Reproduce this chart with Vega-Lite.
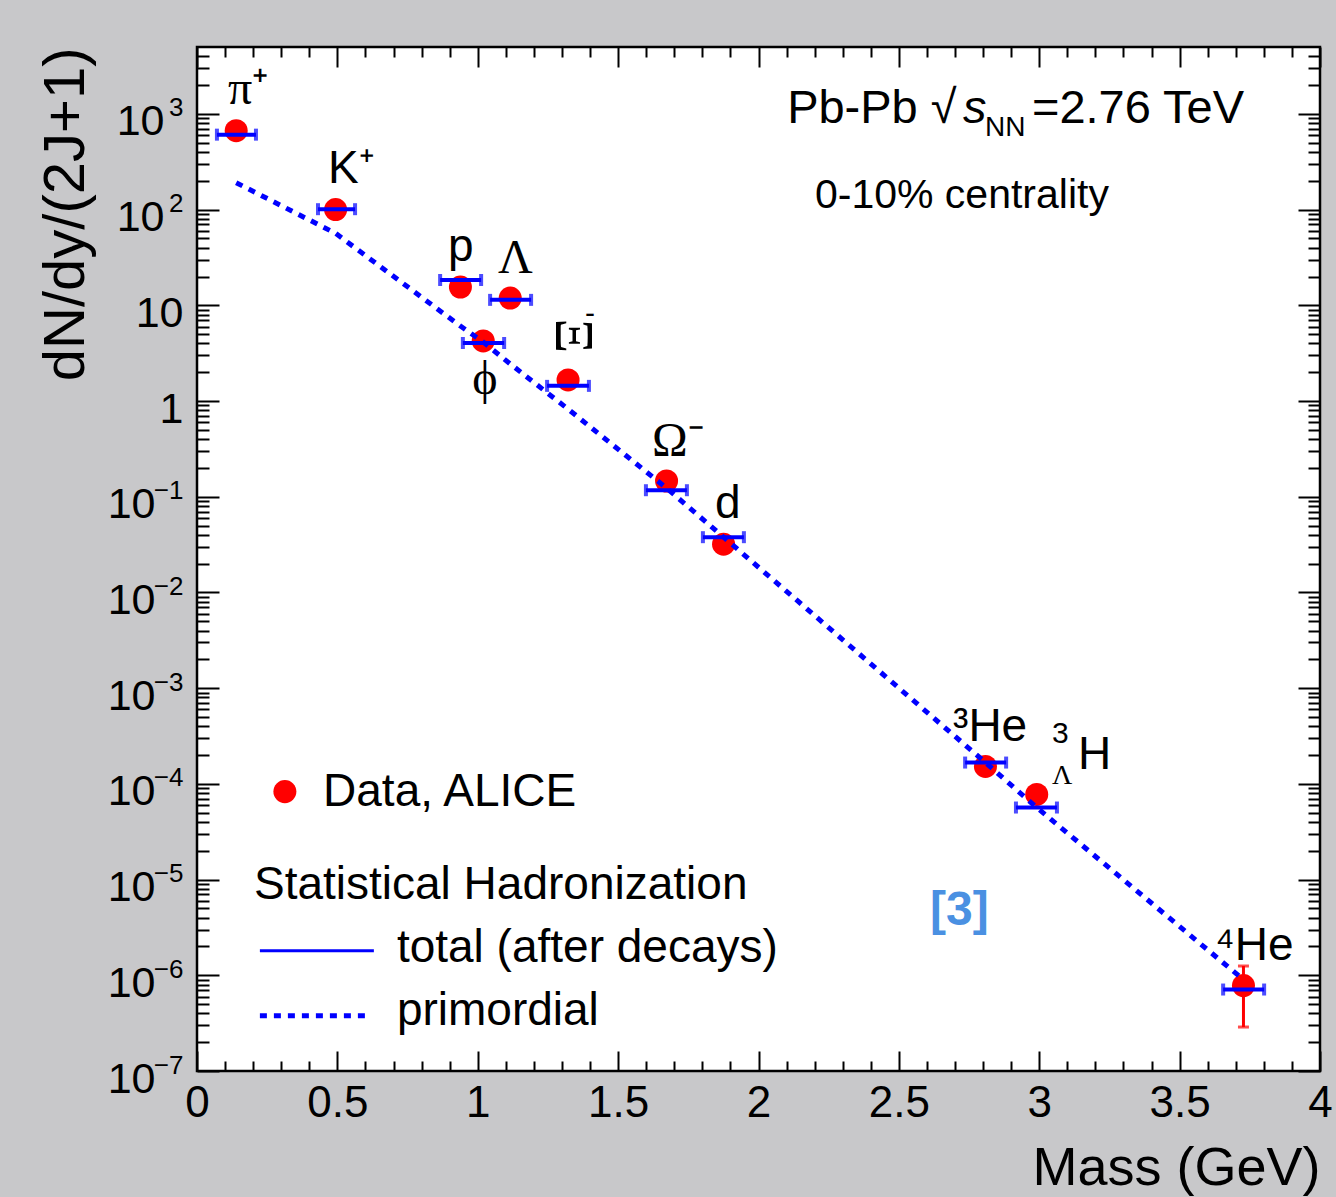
{
  "$schema": "https://vega.github.io/schema/vega-lite/v6.json",
  "width": 1123,
  "height": 1024,
  "autosize": "none",
  "padding": {"left": 197, "top": 47, "right": 16, "bottom": 126},
  "background": "#c8c8ca",
  "config": {
    "view": {"stroke": "black", "strokeWidth": 2.5, "fill": "white"},
    "axis": {"domain": false, "grid": false, "tickColor": "black", "tickWidth": 2, "labelColor": "black", "labelFont": "Liberation Sans", "titleFont": "Liberation Sans", "titleColor": "black", "titleFontWeight": "normal", "labelFlush": false, "labelOverlap": false}
  },
  "resolve": {"axis": {"x": "independent", "y": "independent"}},
  "datasets": {
    "particles": [
      {"particle": "π+", "mass": 0.1396, "yield": 668, "model": 607, "model_lo": 0.071, "model_hi": 0.210, "primordial": 191},
      {"particle": "K+", "mass": 0.4937, "yield": 100, "model": 101, "model_lo": 0.431, "model_hi": 0.563, "primordial": 56.5},
      {"particle": "p", "mass": 0.9383, "yield": 15.5, "model": 18.4, "model_lo": 0.866, "model_hi": 1.012, "primordial": 6.07},
      {"particle": "φ", "mass": 1.0195, "yield": 4.24, "model": 4.04, "model_lo": 0.947, "model_hi": 1.094, "primordial": 4.13},
      {"particle": "Λ", "mass": 1.1157, "yield": 11.9, "model": 11.4, "model_lo": 1.044, "model_hi": 1.190, "primordial": 2.44},
      {"particle": "Ξ-", "mass": 1.3217, "yield": 1.66, "model": 1.44, "model_lo": 1.247, "model_hi": 1.396, "primordial": 0.824},
      {"particle": "Ω-", "mass": 1.6725, "yield": 0.146, "model": 0.117, "model_lo": 1.599, "model_hi": 1.745, "primordial": 0.123},
      {"particle": "d", "mass": 1.8756, "yield": 0.0319, "model": 0.0378, "model_lo": 1.802, "model_hi": 1.948, "primordial": 0.0378},
      {"particle": "3He", "mass": 2.8084, "yield": 0.000152, "model": 0.000167, "model_lo": 2.736, "model_hi": 2.882, "primordial": 0.000167},
      {"particle": "3LH", "mass": 2.991, "yield": 0.0000775, "model": 0.0000566, "model_lo": 2.917, "model_hi": 3.063, "primordial": 0.0000566},
      {"particle": "4He", "mass": 3.7274, "yield": 7.8e-7, "model": 7.1e-7, "model_lo": 3.655, "model_hi": 3.801, "primordial": 9e-7}
    ],
    "he4": [{"mass": 3.7274, "lo": 2.88e-7, "hi": 1.25e-6}],
    "labels_sans": [
      {"t": "K⁺", "x": 0.467, "y": 188},
      {"t": "p", "x": 0.894, "y": 29},
      {"t": "d", "x": 1.845, "y": 0.0597},
      {"t": "³He", "x": 2.693, "y": 0.000278},
      {"t": "H", "x": 3.138, "y": 0.000142},
      {"t": "⁴He", "x": 3.626, "y": 1.46e-6}
    ],
    "labels_serif": [
      {"t": "π⁺", "x": 0.110, "y": 1283},
      {"t": "Λ", "x": 1.072, "y": 21.8},
      {"t": "ϕ", "x": 0.980, "y": 1.18},
      {"t": "Ω⁻", "x": 1.621, "y": 0.266}
    ],
    "xi_rot": [{"t": "Ξ", "x": 1.336, "y": 4.79}],
    "small_sans": [
      {"t": "3", "x": 3.045, "y": 0.000265},
      {"t": "-", "x": 1.382, "y": 6.55}
    ],
    "small_serif": [{"t": "Λ", "x": 3.045, "y": 0.0001}],
    "annot_main": [
      {"t": "Pb-Pb √", "x": 2.102, "y": 811},
      {"t": "=2.76 TeV", "x": 2.974, "y": 811}
    ],
    "annot_s": [{"t": "s", "x": 2.728, "y": 811}],
    "annot_nn": [{"t": "NN", "x": 2.807, "y": 593}],
    "annot_cent": [{"t": "0-10% centrality", "x": 2.201, "y": 104.7}],
    "legend_text": [
      {"t": "Data, ALICE", "x": 0.449, "y": 0.0000594},
      {"t": "Statistical Hadronization", "x": 0.203, "y": 0.00000633},
      {"t": "total (after decays)", "x": 0.712, "y": 0.00000139},
      {"t": "primordial", "x": 0.712, "y": 3.04e-7}
    ],
    "legend_dot": [{"x": 0.313, "y": 0.000083}],
    "legend_solid": [{"x": 0.224, "x2": 0.630, "y": 0.00000181}],
    "legend_dotted": [{"x": 0.224, "x2": 0.609, "y": 3.78e-7}],
    "ref": [{"t": "[3]", "x": 2.611, "y": 0.00000339}]
  },
  "layer": [
    {
      "data": {"name": "particles"},
      "mark": {"type": "circle", "size": 530, "color": "#ff0000", "opacity": 1},
      "encoding": {
        "x": {"field": "mass", "type": "quantitative", "scale": {"domain": [0, 4], "nice": false, "zero": false},
              "axis": {"orient": "top", "values": [0, 0.5, 1, 1.5, 2, 2.5, 3, 3.5, 4], "tickSize": -20, "labels": false, "title": null}},
        "y": {"field": "yield", "type": "quantitative", "scale": {"type": "log", "domain": [1e-7, 5000], "nice": false},
              "axis": {"orient": "right", "values": [1e-7, 1e-6, 1e-5, 1e-4, 1e-3, 1e-2, 1e-1, 1, 10, 100, 1000], "tickSize": -22, "labels": false, "title": null}}
      }
    },
    {
      "data": {"name": "he4"},
      "mark": {"type": "errorbar", "color": "#ff0000", "thickness": 3, "ticks": {"size": 11}},
      "encoding": {
        "x": {"field": "mass", "type": "quantitative", "scale": {"domain": [0, 4], "nice": false, "zero": false}, "axis": null},
        "y": {"field": "lo", "type": "quantitative", "scale": {"type": "log", "domain": [1e-7, 5000], "nice": false}, "axis": null},
        "y2": {"field": "hi"}
      }
    },
    {
      "data": {"name": "particles"},
      "mark": {"type": "line", "color": "#0000ff", "strokeWidth": 5, "strokeDash": [7, 7]},
      "encoding": {
        "x": {"field": "mass", "type": "quantitative", "scale": {"domain": [0, 4], "nice": false, "zero": false},
              "axis": {"orient": "bottom", "values": [0, 0.5, 1, 1.5, 2, 2.5, 3, 3.5, 4], "tickSize": -20, "labelFontSize": 44, "labelPadding": 30, "labelBaseline": "top", "labelExpr": "'' + datum.value",
                       "title": "Mass (GeV)", "titleFontSize": 54, "titleX": 1123, "titleY": 113, "titleAlign": "right", "titleBaseline": "alphabetic", "titleAngle": 0}},
        "y": {"field": "primordial", "type": "quantitative", "scale": {"type": "log", "domain": [1e-7, 5000], "nice": false},
              "axis": {"orient": "left", "values": [1e-7, 1e-6, 1e-5, 1e-4, 1e-3, 1e-2, 1e-1, 1, 10, 100, 1000], "tickSize": -22, "labelFontSize": 43, "labelBaseline": "alphabetic", "labelAlign": "right", "labelOffset": 21,
                       "labelPadding": {"condition": [{"test": "datum.value > 50", "value": 55}, {"test": "datum.value < 0.5", "value": 64}], "value": 36},
                       "labelExpr": "datum.value == 1 ? '1' : '10'",
                       "title": "dN/dy/(2J+1)", "titleFontSize": 58, "titleX": -114, "titleY": 0, "titleAlign": "right", "titleAngle": 270, "titleBaseline": "alphabetic"}}
      }
    },
    {
      "data": {"name": "particles"},
      "mark": {"type": "errorbar", "color": "#0000ff", "thickness": 4, "ticks": {"size": 12}},
      "encoding": {
        "x": {"field": "model_lo", "type": "quantitative", "scale": {"domain": [0, 4], "nice": false, "zero": false}, "axis": null},
        "x2": {"field": "model_hi"},
        "y": {"field": "model", "type": "quantitative", "scale": {"type": "log", "domain": [1e-7, 5000], "nice": false}, "axis": null}
      }
    },
    {
      "data": {"name": "labels_sans"},
      "mark": {"type": "text", "font": "Liberation Sans", "fontSize": 46, "align": "left", "baseline": "alphabetic", "color": "black"},
      "encoding": {
        "x": {"field": "x", "type": "quantitative", "scale": {"domain": [0, 4], "nice": false, "zero": false},
              "axis": {"orient": "bottom", "values": [0.1, 0.2, 0.3, 0.4, 0.6, 0.7, 0.8, 0.9, 1.1, 1.2, 1.3, 1.4, 1.6, 1.7, 1.8, 1.9, 2.1, 2.2, 2.3, 2.4, 2.6, 2.7, 2.8, 2.9, 3.1, 3.2, 3.3, 3.4, 3.6, 3.7, 3.8, 3.9], "tickSize": -10, "labels": false, "title": null}},
        "y": {"field": "y", "type": "quantitative", "scale": {"type": "log", "domain": [1e-7, 5000], "nice": false},
              "axis": {"orient": "left", "values": [2e-7, 3e-7, 4e-7, 5e-7, 6e-7, 7e-7, 8e-7, 9e-7, 2e-6, 3e-6, 4e-6, 5e-6, 6e-6, 7e-6, 8e-6, 9e-6, 2e-5, 3e-5, 4e-5, 5e-5, 6e-5, 7e-5, 8e-5, 9e-5, 2e-4, 3e-4, 4e-4, 5e-4, 6e-4, 7e-4, 8e-4, 9e-4, 0.002, 0.003, 0.004, 0.005, 0.006, 0.007, 0.008, 0.009, 0.02, 0.03, 0.04, 0.05, 0.06, 0.07, 0.08, 0.09, 0.2, 0.3, 0.4, 0.5, 0.6, 0.7, 0.8, 0.9, 2, 3, 4, 5, 6, 7, 8, 9, 20, 30, 40, 50, 60, 70, 80, 90, 200, 300, 400, 500, 600, 700, 800, 900, 2000, 3000, 4000], "tickSize": -12, "labels": false, "title": null}},
        "text": {"field": "t"}
      }
    },
    {
      "data": {"name": "labels_serif"},
      "mark": {"type": "text", "font": "Liberation Serif", "fontSize": 48, "align": "left", "baseline": "alphabetic", "color": "black"},
      "encoding": {
        "x": {"field": "x", "type": "quantitative", "scale": {"domain": [0, 4], "nice": false, "zero": false}, "axis": null},
        "y": {"field": "y", "type": "quantitative", "scale": {"type": "log", "domain": [1e-7, 5000], "nice": false},
              "axis": {"orient": "left", "values": [1e-7, 1e-6, 1e-5, 1e-4, 1e-3, 1e-2, 1e-1, 100, 1000], "tickSize": -22, "tickOpacity": 0, "labelFontSize": 26, "labelBaseline": "alphabetic", "labelAlign": "right", "labelOffset": 2, "labelPadding": 36,
                       "labelExpr": "round(log(datum.value)/LN10) > 0 ? '' + round(log(datum.value)/LN10) : '−' + (-round(log(datum.value)/LN10))",
                       "title": null}},
        "text": {"field": "t"}
      }
    },
    {
      "data": {"name": "xi_rot"},
      "mark": {"type": "text", "font": "Liberation Serif", "fontSize": 54, "align": "center", "baseline": "middle", "angle": 90, "color": "black"},
      "encoding": {
        "x": {"field": "x", "type": "quantitative", "scale": {"domain": [0, 4], "nice": false, "zero": false}, "axis": null},
        "y": {"field": "y", "type": "quantitative", "scale": {"type": "log", "domain": [1e-7, 5000], "nice": false}, "axis": null},
        "text": {"field": "t"}
      }
    },
    {
      "data": {"name": "small_sans"},
      "mark": {"type": "text", "font": "Liberation Sans", "fontSize": 30, "align": "left", "baseline": "alphabetic", "color": "black"},
      "encoding": {
        "x": {"field": "x", "type": "quantitative", "scale": {"domain": [0, 4], "nice": false, "zero": false}, "axis": null},
        "y": {"field": "y", "type": "quantitative", "scale": {"type": "log", "domain": [1e-7, 5000], "nice": false}, "axis": null},
        "text": {"field": "t"}
      }
    },
    {
      "data": {"name": "small_serif"},
      "mark": {"type": "text", "font": "Liberation Serif", "fontSize": 28, "align": "left", "baseline": "alphabetic", "color": "black"},
      "encoding": {
        "x": {"field": "x", "type": "quantitative", "scale": {"domain": [0, 4], "nice": false, "zero": false}, "axis": null},
        "y": {"field": "y", "type": "quantitative", "scale": {"type": "log", "domain": [1e-7, 5000], "nice": false}, "axis": null},
        "text": {"field": "t"}
      }
    },
    {
      "data": {"name": "annot_main"},
      "mark": {"type": "text", "font": "Liberation Sans", "fontSize": 47, "align": "left", "baseline": "alphabetic", "color": "black"},
      "encoding": {
        "x": {"field": "x", "type": "quantitative", "scale": {"domain": [0, 4], "nice": false, "zero": false},
              "axis": {"orient": "top", "values": [0.1, 0.2, 0.3, 0.4, 0.6, 0.7, 0.8, 0.9, 1.1, 1.2, 1.3, 1.4, 1.6, 1.7, 1.8, 1.9, 2.1, 2.2, 2.3, 2.4, 2.6, 2.7, 2.8, 2.9, 3.1, 3.2, 3.3, 3.4, 3.6, 3.7, 3.8, 3.9], "tickSize": -10, "labels": false, "title": null}},
        "y": {"field": "y", "type": "quantitative", "scale": {"type": "log", "domain": [1e-7, 5000], "nice": false},
              "axis": {"orient": "right", "values": [2e-7, 3e-7, 4e-7, 5e-7, 6e-7, 7e-7, 8e-7, 9e-7, 2e-6, 3e-6, 4e-6, 5e-6, 6e-6, 7e-6, 8e-6, 9e-6, 2e-5, 3e-5, 4e-5, 5e-5, 6e-5, 7e-5, 8e-5, 9e-5, 2e-4, 3e-4, 4e-4, 5e-4, 6e-4, 7e-4, 8e-4, 9e-4, 0.002, 0.003, 0.004, 0.005, 0.006, 0.007, 0.008, 0.009, 0.02, 0.03, 0.04, 0.05, 0.06, 0.07, 0.08, 0.09, 0.2, 0.3, 0.4, 0.5, 0.6, 0.7, 0.8, 0.9, 2, 3, 4, 5, 6, 7, 8, 9, 20, 30, 40, 50, 60, 70, 80, 90, 200, 300, 400, 500, 600, 700, 800, 900, 2000, 3000, 4000], "tickSize": -12, "labels": false, "title": null}},
        "text": {"field": "t"}
      }
    },
    {
      "data": {"name": "annot_s"},
      "mark": {"type": "text", "font": "Liberation Sans", "fontSize": 47, "fontStyle": "italic", "align": "left", "baseline": "alphabetic", "color": "black"},
      "encoding": {
        "x": {"field": "x", "type": "quantitative", "scale": {"domain": [0, 4], "nice": false, "zero": false}, "axis": null},
        "y": {"field": "y", "type": "quantitative", "scale": {"type": "log", "domain": [1e-7, 5000], "nice": false}, "axis": null},
        "text": {"field": "t"}
      }
    },
    {
      "data": {"name": "annot_nn"},
      "mark": {"type": "text", "font": "Liberation Sans", "fontSize": 28, "align": "left", "baseline": "alphabetic", "color": "black"},
      "encoding": {
        "x": {"field": "x", "type": "quantitative", "scale": {"domain": [0, 4], "nice": false, "zero": false}, "axis": null},
        "y": {"field": "y", "type": "quantitative", "scale": {"type": "log", "domain": [1e-7, 5000], "nice": false}, "axis": null},
        "text": {"field": "t"}
      }
    },
    {
      "data": {"name": "annot_cent"},
      "mark": {"type": "text", "font": "Liberation Sans", "fontSize": 41, "align": "left", "baseline": "alphabetic", "color": "black"},
      "encoding": {
        "x": {"field": "x", "type": "quantitative", "scale": {"domain": [0, 4], "nice": false, "zero": false}, "axis": null},
        "y": {"field": "y", "type": "quantitative", "scale": {"type": "log", "domain": [1e-7, 5000], "nice": false}, "axis": null},
        "text": {"field": "t"}
      }
    },
    {
      "data": {"name": "legend_text"},
      "mark": {"type": "text", "font": "Liberation Sans", "fontSize": 46, "align": "left", "baseline": "alphabetic", "color": "black"},
      "encoding": {
        "x": {"field": "x", "type": "quantitative", "scale": {"domain": [0, 4], "nice": false, "zero": false}, "axis": null},
        "y": {"field": "y", "type": "quantitative", "scale": {"type": "log", "domain": [1e-7, 5000], "nice": false}, "axis": null},
        "text": {"field": "t"}
      }
    },
    {
      "data": {"name": "legend_dot"},
      "mark": {"type": "circle", "size": 530, "color": "#ff0000", "opacity": 1},
      "encoding": {
        "x": {"field": "x", "type": "quantitative", "scale": {"domain": [0, 4], "nice": false, "zero": false}, "axis": null},
        "y": {"field": "y", "type": "quantitative", "scale": {"type": "log", "domain": [1e-7, 5000], "nice": false}, "axis": null}
      }
    },
    {
      "data": {"name": "legend_solid"},
      "mark": {"type": "rule", "color": "#0000ff", "strokeWidth": 3},
      "encoding": {
        "x": {"field": "x", "type": "quantitative", "scale": {"domain": [0, 4], "nice": false, "zero": false}, "axis": null},
        "x2": {"field": "x2"},
        "y": {"field": "y", "type": "quantitative", "scale": {"type": "log", "domain": [1e-7, 5000], "nice": false}, "axis": null}
      }
    },
    {
      "data": {"name": "legend_dotted"},
      "mark": {"type": "rule", "color": "#0000ff", "strokeWidth": 5, "strokeDash": [7, 7]},
      "encoding": {
        "x": {"field": "x", "type": "quantitative", "scale": {"domain": [0, 4], "nice": false, "zero": false}, "axis": null},
        "x2": {"field": "x2"},
        "y": {"field": "y", "type": "quantitative", "scale": {"type": "log", "domain": [1e-7, 5000], "nice": false}, "axis": null}
      }
    },
    {
      "data": {"name": "ref"},
      "mark": {"type": "text", "font": "Liberation Sans", "fontSize": 48, "fontWeight": "bold", "align": "left", "baseline": "alphabetic", "color": "#4a90e2"},
      "encoding": {
        "x": {"field": "x", "type": "quantitative", "scale": {"domain": [0, 4], "nice": false, "zero": false}, "axis": null},
        "y": {"field": "y", "type": "quantitative", "scale": {"type": "log", "domain": [1e-7, 5000], "nice": false}, "axis": null},
        "text": {"field": "t"}
      }
    }
  ]
}
